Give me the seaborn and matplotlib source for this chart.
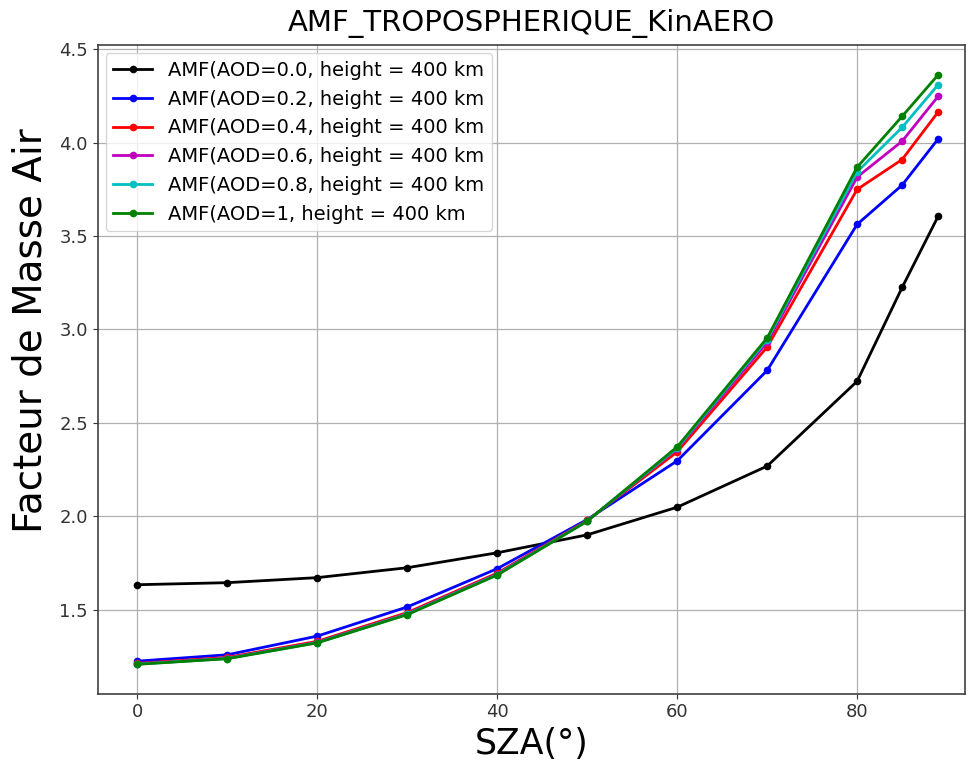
import numpy as np
import pandas as pd
import matplotlib
matplotlib.use("Agg")
import matplotlib.pyplot as plt
import seaborn as sns

sza = [0, 10, 20, 30, 40, 50, 60, 70, 80, 85, 89]
amf_aod00 = [1.633, 1.644, 1.671, 1.724, 1.804, 1.900, 2.048, 2.268, 2.722, 3.224, 3.605]
amf_aod02 = [1.224, 1.258, 1.358, 1.514, 1.719, 1.982, 2.296, 2.780, 3.562, 3.772, 4.019]
amf_aod04 = [1.212, 1.244, 1.330, 1.484, 1.695, 1.977, 2.344, 2.905, 3.749, 3.909, 4.163]
amf_aod06 = [1.209, 1.240, 1.325, 1.478, 1.690, 1.975, 2.360, 2.930, 3.815, 4.007, 4.247]
amf_aod08 = [1.208, 1.238, 1.323, 1.475, 1.687, 1.974, 2.365, 2.945, 3.843, 4.081, 4.309]
amf_aod10 = [1.207, 1.237, 1.322, 1.473, 1.685, 1.973, 2.371, 2.954, 3.868, 4.140, 4.362]

labels = ["AMF(AOD=0.0, height = 400 km",
          "AMF(AOD=0.2, height = 400 km",
          "AMF(AOD=0.4, height = 400 km",
          "AMF(AOD=0.6, height = 400 km",
          "AMF(AOD=0.8, height = 400 km",
          "AMF(AOD=1, height = 400 km"]
series = [amf_aod00, amf_aod02, amf_aod04, amf_aod06, amf_aod08, amf_aod10]
colors = ["k", "b", "r", "m", "c", "g"]

fig = plt.figure(figsize=(9.68, 7.69), dpi=100)
ax = fig.add_axes([0.101, 0.098, 0.896, 0.843])

for lab, vals, col in zip(labels, series, colors):
    df = pd.DataFrame({"SZA": sza, "AMF": vals})
    sns.lineplot(data=df, x="SZA", y="AMF", ax=ax, color=col, marker="o",
                 markersize=5.5, markeredgewidth=0, linewidth=2, label=lab)

ax.set_xlim(-4.4, 92)
ax.set_ylim(1.05, 4.52)
ax.grid(True, color="#b0b0b0", linewidth=0.9)
for sp in ax.spines.values():
    sp.set_color("#404040")
    sp.set_linewidth(1.2)
ax.set_title("AMF_TROPOSPHERIQUE_KinAERO", fontsize=21, pad=10)
ax.set_xlabel("SZA(°)", fontsize=25)
ax.set_ylabel("Facteur de Masse Air", fontsize=28)
ax.yaxis.set_label_coords(-0.056, 0.56)
ax.tick_params(labelsize=13, colors="#333333")
ax.set_xticks([0, 20, 40, 60, 80])
ax.set_yticks([1.5, 2.0, 2.5, 3.0, 3.5, 4.0, 4.5])
ax.legend(loc="upper left", fontsize=14, borderaxespad=0.4)

fig.savefig("out.png", dpi=100)
